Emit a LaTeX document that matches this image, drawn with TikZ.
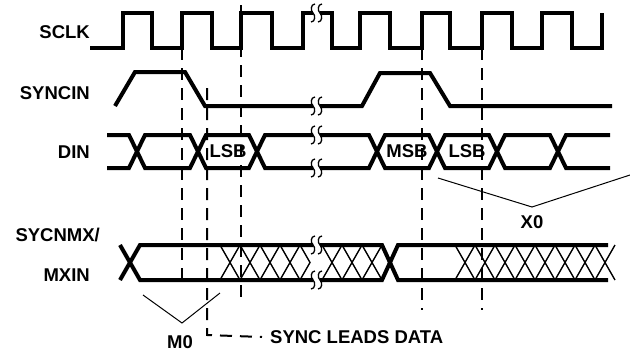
\documentclass[tikz,border=0pt]{standalone}
\usepackage{fontspec}
\setmainfont{Liberation Sans}

\begin{document}
\begin{tikzpicture}[x=1pt,y=-1pt,
    sig/.style={line width=4pt},
    guide/.style={line width=2pt,dash pattern=on 12pt off 8pt},
    hatch/.style={line width=1.4pt},
    brace/.style={line width=1pt},
    lbl/.style={font=\fontsize{18.5}{22}\selectfont\bfseries,inner sep=0pt},
    brk/.pic={
      \foreach \d in {-3.5,3.5}
        \draw[line width=1.3pt,xshift=\d]
          (2,-9) .. controls (-2.5,-9) and (-2.5,-2) .. (0,0)
          .. controls (2.5,2) and (2.5,9) .. (-2,9);
    }]
  \useasboundingbox (0,0) rectangle (630,354);

  % labels
  \node[lbl,anchor=east] (sclk) at (90,32) {SCLK};
  \node[lbl,anchor=east] (syncin) at (90,93) {SYNCIN};
  \node[lbl,anchor=east] (din) at (90,152) {DIN};
  \node[lbl,anchor=east] (sycnmx) at (100,235) {SYCNMX/};
  \node[lbl,anchor=east] (mxin) at (90,275) {MXIN};
  \node[lbl] (lsbA) at (228,151) {LSB};
  \node[lbl] (msb) at (407,151) {MSB};
  \node[lbl] (lsbB) at (467,151) {LSB};
  \node[lbl] (xzero) at (532,222) {X0};
  \node[lbl] (mzero) at (180,342) {M0};
  \node[lbl,anchor=west] (leads) at (270,337) {SYNC LEADS DATA};

  % guides
  \draw[guide] (182,48) -- (182,285);
  \draw[guide] (207,88) -- (207,335) -- ([xshift=-8]leads.west);
  \draw[guide] (241,5) -- (241,302);
  \draw[guide] (422,48) -- (422,310);
  \draw[guide] (482,48) -- (482,310);

  % SCLK
  \draw[sig] (90,48) \foreach \r/\f in {123/152,182/212,241/272}
    { -- (\r,48) -- (\r,13) -- (\f,13) -- (\f,48) } -- (303,48) -- (303,13) -- (313,13);
  \draw[sig] (320,13) -- (332,13) -- (332,48) \foreach \r/\f in {360/390,422/450,482/512,542/572}
    { -- (\r,48) -- (\r,13) -- (\f,13) -- (\f,48) } -- (602,48) -- (602,13);

  % SYNCIN
  \draw[sig] (115,106) -- (135,72) -- (185,72) -- (205,106) -- (313,106);
  \draw[sig] (320,106) -- (362,106) -- (380,73) -- (430,73) -- (450,106) -- (612,106);

  % DIN
  \draw[sig] (107,135) -- (129,135) -- (145,168) -- (190,168) -- (206,135) -- (249,135) -- (265,168) -- (313,168);
  \draw[sig] (107,168) -- (129,168) -- (145,135) -- (190,135) -- (206,168) -- (249,168) -- (265,135) -- (313,135);
  \draw[sig] (320,135) -- (369,135) -- (385,168) -- (429,168) -- (445,135) -- (489,135) -- (505,168) -- (550,168) -- (566,135) -- (610,135);
  \draw[sig] (320,168) -- (369,168) -- (385,135) -- (429,135) -- (445,168) -- (489,168) -- (505,135) -- (550,135) -- (566,168) -- (610,168);

  % SYCNMX/MXIN
  \draw[sig] (120,280) -- (140,245) -- (313,245);
  \draw[sig] (120,245) -- (140,280) -- (313,280);
  \draw[sig] (320,245) -- (382,245) -- (398,280) -- (608,280);
  \draw[sig] (320,280) -- (382,280) -- (398,245) -- (608,245);
  \foreach \x in {220,240,260,280,322,342,362,455,475,...,595}
    \draw[hatch] (\x,245) -- ({\x+20},280) (\x,280) -- ({\x+20},245);
  \draw[hatch] (300,245) -- (310,262.5) -- (300,280);

  % breaks
  \foreach \y in {13,106,135,168,245,280}
    \pic at (316.5,\y) {brk};

  % brackets
  \draw[brace] (438,178) -- (532,207) -- (630,175);
  \draw[brace] (143,295) -- (182,323) -- (220,293);
\end{tikzpicture}
\end{document}
